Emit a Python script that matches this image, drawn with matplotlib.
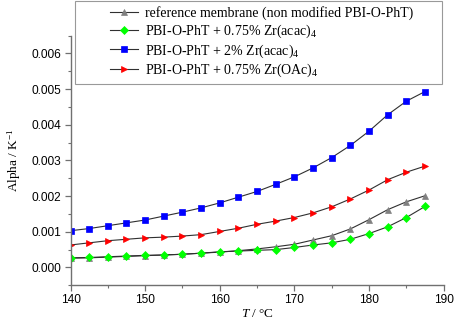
import matplotlib
matplotlib.use("Agg")
import numpy as np
import matplotlib.pyplot as plt
from matplotlib.ticker import MultipleLocator, FormatStrFormatter
from matplotlib.legend_handler import HandlerLine2D

# Temperature grid (°C)
temperature = [140, 142.5, 145, 147.5, 150, 152.5, 155, 157.5, 160, 162.5,
               165, 167.5, 170, 172.5, 175, 177.5, 180, 182.5, 185, 187.5]

# Thermal expansion coefficient alpha (1/K)
alpha_reference = [0.00026, 0.00027, 0.00029, 0.00031, 0.00033, 0.00035, 0.00037, 0.00040,
                   0.00043, 0.00047, 0.00052, 0.00058, 0.00065, 0.00077, 0.00089, 0.00108,
                   0.00134, 0.00162, 0.00184, 0.00201]
alpha_acac_075 = [0.00027, 0.00028, 0.00030, 0.00032, 0.00034, 0.00035, 0.00037, 0.00040,
                  0.00044, 0.00046, 0.00048, 0.00050, 0.00056, 0.00063, 0.00069, 0.00079,
                  0.00095, 0.00114, 0.00140, 0.00171]
alpha_acac_2 = [0.00103, 0.00109, 0.00117, 0.00125, 0.00133, 0.00144, 0.00155, 0.00167,
                0.00181, 0.00197, 0.00213, 0.00233, 0.00254, 0.00279, 0.00308, 0.00342,
                0.00382, 0.00428, 0.00466, 0.00493]
alpha_oac_075 = [0.00063, 0.00069, 0.00075, 0.00079, 0.00083, 0.00085, 0.00088, 0.00092,
                 0.00101, 0.00110, 0.00121, 0.00130, 0.00140, 0.00153, 0.00170, 0.00192,
                 0.00217, 0.00246, 0.00267, 0.00284]

series_labels = [
    "reference membrane (non modified PBI-O-PhT)",
    "PBI-O-PhT + 0.75% Zr(acac)$_4$",
    "PBI-O-PhT + 2% Zr(acac)$_4$",
    "PBI-O-PhT + 0.75% Zr(OAc)$_4$",
]

serif = ["Liberation Serif", "DejaVu Serif"]
sans = ["Liberation Sans", "DejaVu Sans"]
plt.rcParams["mathtext.fontset"] = "custom"
plt.rcParams["mathtext.rm"] = "Liberation Serif"
plt.rcParams["mathtext.it"] = "Liberation Serif:italic"


class RightAlignedLineHandler(HandlerLine2D):
    """Draw the legend sample only in the right part of the handle box."""

    def get_xdata(self, legend, xdescent, ydescent, width, height, fontsize):
        x0 = -xdescent + width * 0.52
        x1 = -xdescent + width
        return np.array([x0, x1]), np.array([(x0 + x1) / 2])


fig = plt.figure(figsize=(4.54, 3.21), dpi=100)
ax = fig.add_axes([0.1553, 0.1112, 0.822, 0.7782])

styles = [
    (alpha_reference, "^", "#808080", 4.5),
    (alpha_acac_075, "D", "#00ff00", 4.0),
    (alpha_acac_2, "s", "#0000ff", 4.2),
    (alpha_oac_075, ">", "#ff0000", 4.5),
]
handles = []
for (vals, mk, col, ms), lab in zip(styles, series_labels):
    h, = ax.plot(temperature, vals, color="#303030", lw=0.8, marker=mk,
                 markersize=ms, markerfacecolor=col, markeredgecolor=col,
                 markeredgewidth=0.5, label=lab)
    handles.append(h)

ax.set_xlim(140, 190)
ax.set_ylim(-0.0005, 0.0065)
ax.xaxis.set_major_locator(MultipleLocator(10))
ax.xaxis.set_minor_locator(MultipleLocator(5))
ax.yaxis.set_major_locator(MultipleLocator(0.001))
ax.yaxis.set_minor_locator(MultipleLocator(0.0005))
ax.yaxis.set_major_formatter(FormatStrFormatter("%.3f"))

for side in ("top", "right"):
    ax.spines[side].set_visible(False)
for side in ("left", "bottom"):
    ax.spines[side].set_color("#707070")
    ax.spines[side].set_linewidth(1.0)

ax.tick_params(which="major", direction="out", length=4.5, width=0.9,
               color="#707070", labelsize=8.6, pad=2)
ax.tick_params(which="minor", direction="out", length=2.5, width=0.8,
               color="#707070")
for lbl in ax.get_xticklabels() + ax.get_yticklabels():
    lbl.set_family(sans)

ax.set_xlabel("$T$ / °C", family=serif, fontsize=9.5, labelpad=1)
ax.set_ylabel("Alpha / K$^{-1}$", family=serif, fontsize=9.5, labelpad=6)

leg = fig.legend(handles=handles, loc="upper left", mode="expand",
                 bbox_to_anchor=(75 / 454, 0, 367 / 454, 1 - 1 / 321),
                 prop={"family": serif, "size": 10},
                 handler_map={h: RightAlignedLineHandler() for h in handles},
                 frameon=True, fancybox=False, edgecolor="#808080",
                 handlelength=4.2, handletextpad=0.5, borderpad=0.35,
                 labelspacing=0.18, borderaxespad=0)
leg.get_frame().set_linewidth(0.8)

fig.savefig("out.png", dpi=100)
